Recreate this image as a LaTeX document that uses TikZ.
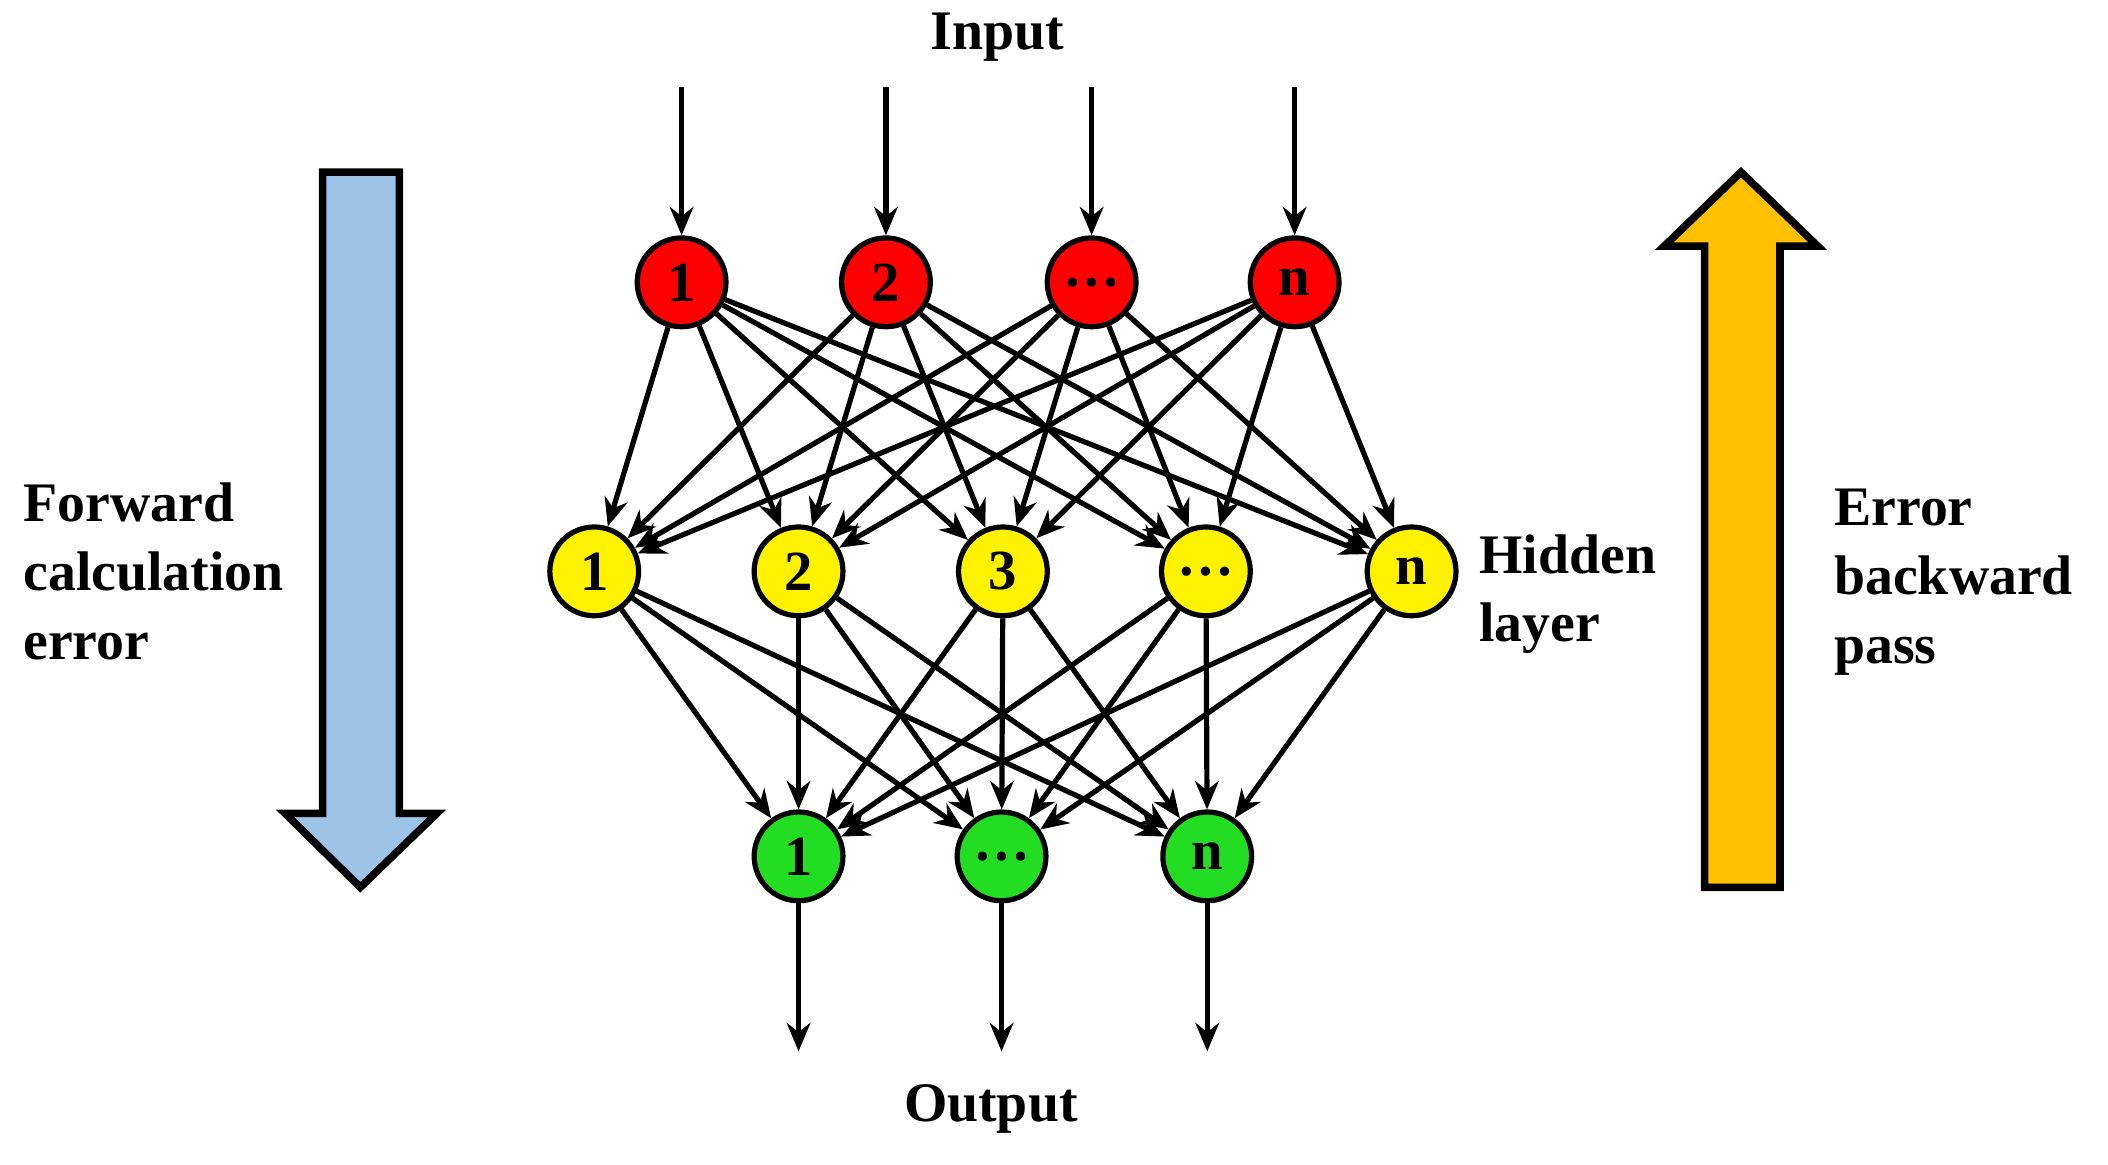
\documentclass[tikz,border=0pt]{standalone}
\usepackage{fontspec}
\setmainfont{Liberation Serif}
\usetikzlibrary{arrows.meta}
\definecolor{fblue}{HTML}{9DC3E6}
\definecolor{borange}{HTML}{FFC000}
\definecolor{ngreen}{HTML}{22DD22}
\begin{document}
\begin{tikzpicture}[x=0.01cm,y=-0.01cm,
  neu/.style={circle,draw=black,line width=1.1pt,minimum size=0.66cm,inner sep=0pt,font=\bfseries\fontsize{12}{12}\selectfont},
  edge/.style={-{Stealth[length=6pt,width=5pt]},line width=1.1pt},
  lbl/.style={font=\bfseries\fontsize{11.8}{14.5}\selectfont,align=left}]
\useasboundingbox (0,0) rectangle (1568,866);
\foreach \x/\t [count=\i] in {507/1,659/2,812/\dots,963/n}{
  \node[neu,fill=red] (i\i) at (\x,210) {\t};
  \coordinate (ti\i) at (\x,65);
  \draw[edge] (ti\i) -- (i\i);}
\foreach \x/\t [count=\i] in {442/1,594/2,746/3,897/\dots,1050/n}
  \node[neu,fill=yellow] (h\i) at (\x,425) {\t};
\foreach \x/\t [count=\i] in {594/1,745/\dots,898/n}{
  \node[neu,fill=ngreen] (o\i) at (\x,637) {\t};
  \coordinate (to\i) at (\x,782);
  \draw[edge] (o\i) -- (to\i);}
\foreach \i in {1,...,4}\foreach \j in {1,...,5}\draw[edge] (i\i) -- (h\j);
\foreach \i in {1,...,5}\foreach \j in {1,...,3}\draw[edge] (h\i) -- (o\j);
\node[lbl] (in) at (742,28) {Input};
\node[lbl] (out) at (737,825) {Output};
\node[lbl,anchor=west] (hid) at (1088,442) {Hidden\\layer};
\node[lbl,anchor=west] (fw) at (5,425) {Forward\\calculation\\error};
\node[lbl,anchor=west] (bw) at (1352,433) {Error\\backward\\pass};
\draw[line width=1.6pt,fill=fblue] (240,128)--(297,128)--(297,605)--(325,605)--(268,660)--(212,605)--(240,605)--cycle;
\draw[line width=1.6pt,fill=borange] (1268,660)--(1324,660)--(1324,183)--(1352,183)--(1295,128)--(1238,183)--(1268,183)--cycle;
\end{tikzpicture}
\end{document}
